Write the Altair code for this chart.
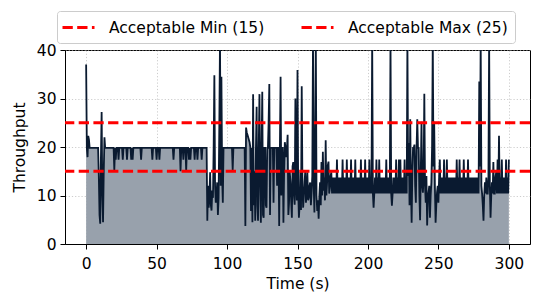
import altair as alt
import pandas as pd

# samples every 0.5 s, 0 .. 300 s
throughput = [
    37.0, 19.8, 17.9, 22.3, 21.5, 19.8, 19.8, 19.8, 19.8, 19.8, 19.8, 19.8, 19.8, 19.8, 19.8, 19.8, 19.8, 19.8, 14.0, 6.0,
    4.2, 18.0, 27.2, 10.0, 4.5, 15.0, 22.0, 19.8, 19.8, 19.8, 19.8, 19.8, 19.8, 19.8, 19.8, 19.8, 19.8, 19.8, 19.8, 19.8,
    15.2, 19.8, 17.4, 19.8, 19.8, 19.8, 17.4, 19.8, 19.8, 19.8, 19.8, 19.8, 17.4, 19.8, 19.8, 19.8, 19.8, 19.8, 17.4, 19.8,
    19.8, 19.8, 19.8, 19.8, 17.4, 19.8, 17.4, 19.8, 19.8, 19.8, 19.8, 19.8, 19.8, 19.8, 19.8, 19.8, 19.8, 19.8, 17.4, 19.8,
    19.8, 19.8, 19.8, 19.8, 19.8, 19.8, 19.8, 19.8, 19.8, 19.8, 19.8, 19.8, 19.8, 19.8, 17.4, 19.8, 19.8, 19.8, 19.8, 19.8,
    17.4, 19.8, 19.8, 19.8, 17.4, 19.8, 19.8, 19.8, 19.8, 19.8, 19.8, 19.8, 19.8, 19.8, 19.8, 19.8, 19.8, 19.8, 19.8, 19.8,
    19.8, 19.8, 19.8, 19.8, 17.4, 19.8, 19.8, 19.8, 19.8, 19.8, 19.8, 19.8, 19.8, 19.8, 15.0, 19.8, 19.8, 19.8, 17.4, 19.8,
    19.8, 19.8, 15.0, 19.8, 19.8, 19.8, 17.4, 19.8, 17.4, 19.8, 19.8, 19.8, 19.8, 19.8, 17.4, 19.8, 19.8, 19.8, 17.4, 19.8,
    19.8, 19.8, 19.8, 19.8, 17.4, 19.8, 19.8, 19.8, 19.8, 19.8, 19.8, 19.8, 4.8, 12.0, 7.5, 10.0, 14.8, 8.0, 6.9, 11.0,
    9.5, 20.0, 34.8, 12.0, 8.5, 10.0, 12.7, 6.0, 9.5, 24.0, 42.0, 12.0, 34.5, 14.0, 8.5, 19.8, 19.8, 19.8, 19.8, 19.8,
    19.8, 19.8, 19.8, 19.8, 19.8, 19.8, 19.8, 19.8, 15.2, 19.8, 19.8, 19.8, 19.8, 19.8, 19.8, 19.8, 19.8, 19.8, 19.8, 19.8,
    19.8, 19.8, 19.8, 19.8, 19.8, 19.8, 3.7, 24.0, 23.0, 22.5, 22.0, 21.5, 21.0, 20.0, 6.8, 19.8, 4.5, 30.9, 8.0, 15.0,
    4.8, 19.8, 28.3, 8.0, 4.8, 19.8, 30.9, 12.0, 4.4, 19.8, 31.4, 6.0, 5.4, 19.8, 19.8, 8.0, 7.5, 19.8, 19.8, 25.0,
    33.0, 6.0, 19.8, 19.8, 19.8, 19.8, 8.5, 19.8, 19.8, 19.8, 19.8, 12.0, 19.8, 19.8, 3.7, 19.8, 34.5, 10.0, 19.8, 19.8,
    4.4, 15.0, 21.0, 19.8, 17.9, 19.8, 22.5, 6.0, 8.5, 15.0, 12.7, 9.0, 5.4, 16.0, 16.9, 10.0, 8.1, 30.0, 12.7, 9.0,
    35.9, 11.0, 5.4, 8.0, 14.8, 7.0, 32.5, 12.0, 7.5, 10.0, 12.7, 15.0, 8.5, 11.0, 14.8, 9.0, 9.5, 12.0, 12.7, 8.0,
    10.6, 14.0, 42.0, 12.0, 6.5, 20.0, 42.0, 10.0, 6.8, 9.0, 5.2, 10.0, 12.7, 8.0, 16.9, 10.0, 19.0, 11.0, 13.7, 9.0,
    21.4, 10.0, 12.7, 16.2, 17.0, 10.4, 11.6, 14.0, 14.8, 10.4, 13.7, 10.4, 13.7, 10.4, 13.7, 10.4, 17.4, 10.4, 13.7, 10.4,
    13.7, 10.4, 13.7, 10.4, 17.4, 10.4, 13.7, 10.4, 13.7, 10.4, 17.4, 10.4, 13.7, 10.4, 13.7, 10.4, 17.4, 10.4, 13.7, 10.4,
    13.7, 10.4, 17.4, 10.4, 13.7, 10.4, 13.7, 10.4, 13.7, 10.4, 17.4, 10.4, 13.7, 10.4, 13.7, 10.4, 17.4, 10.4, 13.7, 10.4,
    13.7, 10.4, 17.4, 10.4, 13.7, 10.4, 42.0, 10.4, 7.5, 10.4, 13.7, 10.4, 17.4, 10.4, 13.7, 10.4, 17.4, 10.4, 13.7, 10.4,
    13.7, 10.4, 13.7, 10.4, 13.7, 10.4, 17.4, 10.4, 13.7, 10.4, 13.7, 10.4, 42.0, 10.4, 7.9, 10.4, 13.7, 10.4, 13.7, 10.4,
    17.4, 10.4, 13.7, 10.4, 17.4, 10.4, 17.4, 10.4, 13.7, 10.4, 13.7, 10.4, 17.4, 10.4, 13.7, 10.4, 42.0, 14.0, 20.8, 8.0,
    25.7, 12.0, 4.4, 15.0, 19.8, 19.8, 20.5, 12.0, 8.5, 19.8, 25.7, 19.8, 19.8, 10.0, 4.9, 15.0, 25.2, 12.0, 10.6, 14.0,
    31.0, 12.0, 8.5, 14.0, 3.8, 9.0, 10.6, 12.0, 5.4, 10.0, 12.7, 20.0, 42.0, 16.0, 25.2, 12.0, 4.4, 8.0, 10.6, 12.0,
    8.5, 13.7, 17.4, 10.4, 13.7, 10.4, 13.7, 10.4, 17.4, 10.4, 13.7, 10.4, 17.4, 10.4, 13.7, 10.4, 13.7, 10.4, 13.7, 10.4,
    13.7, 10.4, 13.7, 10.4, 13.7, 10.4, 17.4, 10.4, 13.7, 10.4, 17.4, 10.4, 13.7, 10.4, 13.7, 10.4, 17.4, 10.4, 13.7, 10.4,
    13.7, 10.4, 17.4, 10.4, 13.7, 10.4, 13.7, 10.4, 13.7, 10.4, 13.7, 10.4, 13.7, 10.4, 13.7, 10.4, 13.7, 10.4, 33.5, 16.0,
    42.0, 12.0, 10.4, 8.0, 4.8, 10.0, 12.7, 10.4, 13.7, 10.4, 10.4, 13.7, 42.0, 12.0, 5.4, 10.0, 12.7, 10.4, 16.9, 10.4,
    10.4, 13.7, 14.8, 10.4, 17.4, 10.4, 22.3, 10.4, 13.7, 10.4, 17.4, 10.4, 13.7, 10.4, 13.7, 10.4, 17.4, 10.4, 13.7, 10.4,
    17.4,
]
time_s = [i * 0.5 for i in range(len(throughput))]
threshold_names = ["Acceptable Min (15)", "Acceptable Max (25)"]
threshold_values = [15, 25]
x_ticks = [0, 50, 100, 150, 200, 250, 300]
y_ticks = [0, 10, 20, 30, 40]

FONT = "DejaVu Sans"
FS = 15.5

df = pd.DataFrame({"t": time_s, "v": throughput})
th = pd.DataFrame({"name": threshold_names, "v": threshold_values})

x_enc = alt.X(
    "t:Q",
    scale=alt.Scale(domain=[-15, 315], nice=False, zero=False),
    axis=alt.Axis(values=x_ticks, title="Time (s)", labelPadding=7, titlePadding=5),
)
y_enc = alt.Y(
    "v:Q",
    scale=alt.Scale(domain=[0, 40], nice=False),
    axis=alt.Axis(values=y_ticks, title="Throughput", labelPadding=4, titlePadding=9),
)

area = alt.Chart(df).mark_area(color="#98a1ac", opacity=1, clip=True).encode(x=x_enc, y=y_enc)
line = alt.Chart(df).mark_line(color="#0a1a30", strokeWidth=1.8, clip=True).encode(x=x_enc, y=y_enc)
rules = alt.Chart(th).mark_rule(strokeWidth=2.8, strokeDash=[10.3, 4.4]).encode(
    y=y_enc,
    color=alt.Color(
        "name:N",
        scale=alt.Scale(domain=threshold_names, range=["#ff0000", "#ff0000"]),
        legend=alt.Legend(
            title=None,
            orient="none",
            legendX=-8,
            legendY=-39,
            direction="horizontal",
            columns=2,
            symbolType="M-2,0L2,0",
            symbolSize=256,
            symbolOffset=5,
            symbolStrokeWidth=2.8,
            symbolDash=[10.3, 4.4],
            labelFontSize=FS,
            labelFont=FONT,
            labelColor="black",
            labelOffset=21,
            columnPadding=30,
            padding=7,
            strokeColor="#cccccc",
            cornerRadius=3,
            fillColor="white",
        ),
    ),
)

chart = (
    alt.layer(area, line, rules)
    .properties(width=465, height=194, padding={"left": 4, "top": 2, "right": 5, "bottom": 5})
    .configure_view(stroke="black", strokeWidth=1)
    .configure_axis(
        domainColor="black",
        tickColor="black",
        tickSize=5,
        labelFontSize=FS,
        titleFontSize=FS,
        labelFont=FONT,
        titleFont=FONT,
        titleFontWeight="normal",
        labelColor="black",
        titleColor="black",
        gridColor="#b0b0b0",
        gridDash=[1.2, 2],
        gridOpacity=0.8,
        gridWidth=0.8,
    )
)

chart.save("out.html", embed_options={"renderer": "svg", "actions": False})
